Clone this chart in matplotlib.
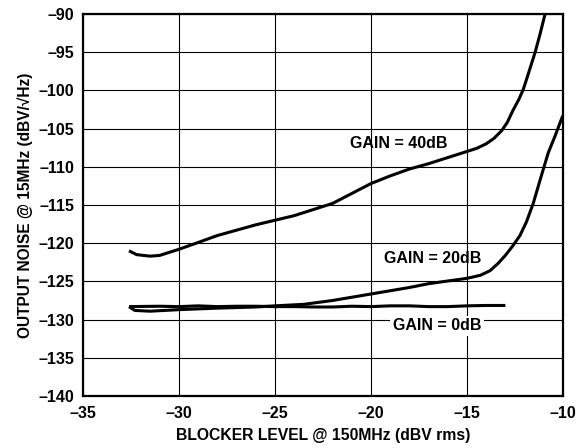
import matplotlib.pyplot as plt

plt.rcParams['font.family'] = ['Liberation Sans', 'DejaVu Sans']
plt.rcParams['font.weight'] = 'bold'

# blocker level (dBV rms) and output noise (dBV/rtHz)
x40 = [-32.6, -32.2, -31.5, -31.0, -30.0, -29.1, -28.0, -27.0, -26.0, -25.0,
       -24.0, -23.0, -22.0, -21.0, -20.0, -19.0, -18.0, -17.0, -16.0, -15.0,
       -14.5, -14.0, -13.6, -13.2, -12.9, -12.6, -12.3, -12.07, -11.8, -11.46,
       -11.2, -10.94, -10.8]
y40 = [-121.0, -121.5, -121.7, -121.6, -120.8, -120.0, -119.0, -118.3, -117.6, -117.0,
       -116.4, -115.6, -114.8, -113.5, -112.2, -111.2, -110.3, -109.6, -108.8, -108.0,
       -107.6, -107.0, -106.3, -105.3, -104.2, -102.6, -101.2, -99.9, -97.8, -95.1,
       -92.7, -90.1, -88.8]

x20 = [-32.6, -32.3, -31.5, -30.0, -28.0, -26.0, -25.0, -23.5, -22.0, -20.0,
       -18.0, -17.0, -15.0, -14.3, -13.8, -13.4, -13.0, -12.6, -12.24, -11.9, -11.55,
       -11.2, -10.77, -10.4, -10.07, -10.0]
y20 = [-128.3, -128.8, -128.9, -128.7, -128.5, -128.35, -128.2, -128.0, -127.5, -126.65,
       -125.8, -125.3, -124.6, -124.2, -123.6, -122.7, -121.6, -120.3, -119.0, -117.2, -114.8,
       -111.8, -108.2, -105.9, -103.7, -103.3]

x0 = [-32.6, -31.0, -30.0, -29.0, -28.0, -27.0, -26.0, -25.0, -24.0, -23.0, -22.0,
      -21.0, -20.0, -19.0, -18.0, -17.0, -16.0, -15.0, -14.0, -13.0]
y0 = [-128.3, -128.25, -128.3, -128.2, -128.3, -128.25, -128.25, -128.3, -128.3, -128.35, -128.35,
      -128.25, -128.3, -128.2, -128.2, -128.3, -128.3, -128.2, -128.15, -128.15]

xticks = [-35, -30, -25, -20, -15, -10]
yticks = [-140, -135, -130, -125, -120, -115, -110, -105, -100, -95, -90]

fig = plt.figure(figsize=(5.84, 4.48), dpi=100)
ax = fig.add_axes([0.142, 0.116, 0.822, 0.853])

for xs, ys in [(x40, y40), (x20, y20), (x0, y0)]:
    ax.plot(xs, ys, color='black', lw=2.2, solid_capstyle='butt', solid_joinstyle='round')

ax.set_xlim(-35, -10)
ax.set_ylim(-140, -90)
ax.set_xticks(xticks)
ax.set_yticks(yticks)
ax.set_xticklabels([str(t).replace('-', '\u2013') for t in xticks])
ax.set_yticklabels([str(t).replace('-', '\u2013') for t in yticks])
ax.tick_params(length=0, labelsize=11.5)
ax.tick_params(axis='x', pad=7)
ax.tick_params(axis='y', pad=6)
for lab in ax.get_xticklabels() + ax.get_yticklabels():
    lab.set_fontweight('bold')
ax.grid(True, color='black', lw=0.8)
for s in ax.spines.values():
    s.set_linewidth(1.6)

ax.set_xlabel('BLOCKER LEVEL @ 150MHz (dBV rms)', fontsize=11.3, fontweight='bold', labelpad=5)
ax.set_ylabel('OUTPUT NOISE @ 15MHz (dBV/\u221aHz)', fontsize=11.2, fontweight='bold', labelpad=4)

ax.text(-18.55, -106.9, 'GAIN = 40dB', fontsize=11.5, fontweight='bold', ha='center', va='center')
ax.text(-16.8, -122.0, 'GAIN = 20dB', fontsize=11.5, fontweight='bold', ha='center', va='center')
ax.text(-16.55, -130.8, 'GAIN = 0dB', fontsize=11.5, fontweight='bold', ha='center', va='center',
        bbox=dict(facecolor='white', edgecolor='none', pad=2))

fig.savefig('out.png', dpi=100)
